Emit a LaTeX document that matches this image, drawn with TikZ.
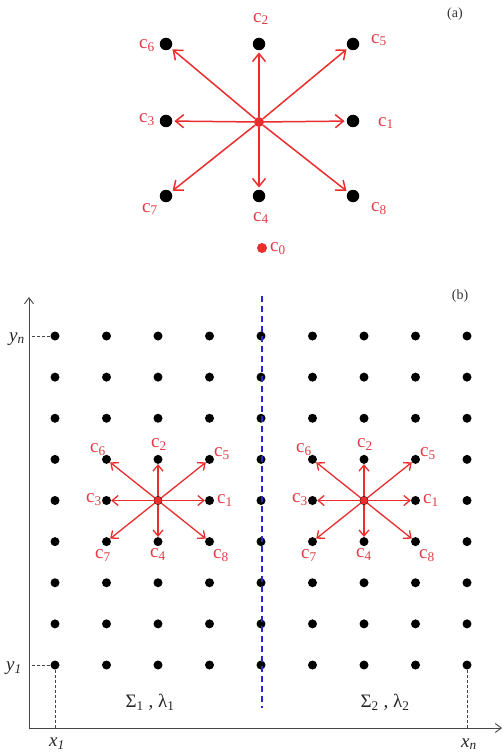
\documentclass[tikz,border=0pt]{standalone}
\usepackage{fontspec}
\setmainfont{Liberation Serif}
\usetikzlibrary{arrows.meta}
\definecolor{myred}{RGB}{235,45,45}
\definecolor{lblred}{RGB}{225,60,70}
\definecolor{axgray}{RGB}{70,70,70}
\definecolor{myblue}{RGB}{40,40,210}
\newcommand\csub[1]{c\textsubscript{#1}}
\newcommand\itsub[2]{\textit{#1}\textsubscript{\textit{#2}}}
\begin{document}
\begin{tikzpicture}[x=1pt,y=-1pt,
  bigdot/.style={circle,fill=black,inner sep=0pt,minimum size=12.5pt},
  smalldot/.style={circle,fill=black,inner sep=0pt,minimum size=9pt},
  rdot/.style={circle,fill=myred,inner sep=0pt,minimum size=#1},
  bigarrow/.style={myred,line width=1.5pt,shorten >=2pt,-{Straight Barb[length=8pt,width=13pt]}},
  smallarrow/.style={myred,line width=1.3pt,-{Straight Barb[length=6pt,width=10pt]}},
  lab/.style={text=lblred,font=\fontsize{19}{21}\selectfont,inner sep=0pt},
  axlab/.style={text=black!85,font=\fontsize{19}{21}\selectfont,inner sep=0pt},
  panel/.style={text=black!80,font=\fontsize{14}{16}\selectfont,inner sep=0pt},
  axis/.style={axgray,line width=0.9pt,-{Straight Barb[length=6pt,width=9pt]}},
  guide/.style={axgray,line width=0.7pt,dash pattern=on 3pt off 2pt}
]
\useasboundingbox (0,0) rectangle (502,754);
% ---------- (a) ----------
\node[panel] (pa) at (455,14) {(a)};
\node[rdot=10pt] (A0) at (259,122) {};
\node[bigdot] (A1) at (353,121) {};
\node[bigdot] (A2) at (259,44) {};
\node[bigdot] (A3) at (166,121) {};
\node[bigdot] (A4) at (259,196) {};
\node[bigdot] (A5) at (353,44) {};
\node[bigdot] (A6) at (166,44) {};
\node[bigdot] (A7) at (166,196) {};
\node[bigdot] (A8) at (353,196) {};
\foreach \t in {1,...,8} \draw[bigarrow] (A0) -- (A\t);
\node[lab] (la1) at (386,123) {\csub{1}};
\node[lab] (la2) at (261,19) {\csub{2}};
\node[lab] (la3) at (147,120) {\csub{3}};
\node[lab] (la4) at (261,218) {\csub{4}};
\node[lab] (la5) at (379,40) {\csub{5}};
\node[lab] (la6) at (147,46) {\csub{6}};
\node[lab] (la7) at (150,209) {\csub{7}};
\node[lab] (la8) at (379,209) {\csub{8}};
\node[rdot=10pt] (C0) at (262,248) {};
\node[lab,anchor=west] (lc0) at (270,249) {\csub{0}};
% ---------- (b) ----------
\node[panel] (pb) at (460,296) {(b)};
\coordinate (O) at (29,728);
\coordinate (ytop) at (29,297);
\coordinate (xend) at (502,728);
\draw[axis] (O) -- (ytop);
\draw[axis] (O) -- (xend);
\foreach \i in {1,...,9}
  \foreach \j in {1,...,9}
    \node[smalldot] (d\i\j) at ({55+(\i-1)*51.5},{336+(\j-1)*41.125}) {};
\draw[guide] (d11.west) -- (d11 -| O);
\draw[guide] (d19.west) -- (d19 -| O);
\draw[guide] (d19.south) -- (d19 |- O);
\draw[guide] (d99.south) -- (d99 |- O);
\coordinate (bt) at (262,296);
\coordinate (bb) at (262,708);
\draw[myblue,line width=1.4pt,dash pattern=on 6pt off 4pt] (bt) -- (bb);
\foreach \c in {3,7}{
  \pgfmathtruncatemacro\l{\c-1}
  \pgfmathtruncatemacro\r{\c+1}
  \node[rdot=8pt] (s\c) at (d\c5) {};
  \draw[smallarrow] (s\c) -- (d\r5);
  \draw[smallarrow] (s\c) -- (d\c4);
  \draw[smallarrow] (s\c) -- (d\l5);
  \draw[smallarrow] (s\c) -- (d\c6);
  \draw[smallarrow] (s\c) -- (d\r4);
  \draw[smallarrow] (s\c) -- (d\l4);
  \draw[smallarrow] (s\c) -- (d\l6);
  \draw[smallarrow] (s\c) -- (d\r6);
  \node[lab] (b\c-1) at ([shift={(67,0)}]s\c) {\csub{1}};
  \node[lab] (b\c-2) at ([shift={(1,-56)}]s\c) {\csub{2}};
  \node[lab] (b\c-3) at ([shift={(-64,-1)}]s\c) {\csub{3}};
  \node[lab] (b\c-4) at ([shift={(0,54)}]s\c) {\csub{4}};
  \node[lab] (b\c-5) at ([shift={(64,-47)}]s\c) {\csub{5}};
  \node[lab] (b\c-6) at ([shift={(-60,-51)}]s\c) {\csub{6}};
  \node[lab] (b\c-7) at ([shift={(-55,55)}]s\c) {\csub{7}};
  \node[lab] (b\c-8) at ([shift={(63,55)}]s\c) {\csub{8}};
}
\node[axlab] (yn) at (17,339) {\itsub{y}{n}};
\node[axlab] (y1) at (14,668) {\itsub{y}{1}};
\node[axlab] (x1) at (57,744) {\itsub{x}{1}};
\node[axlab] (xn) at (469,744) {\itsub{x}{n}};
\node[axlab] (s1) at (150,702) {Σ\textsubscript{1} , λ\textsubscript{1}};
\node[axlab] (s2) at (385,702) {Σ\textsubscript{2} , λ\textsubscript{2}};
\end{tikzpicture}
\end{document}
